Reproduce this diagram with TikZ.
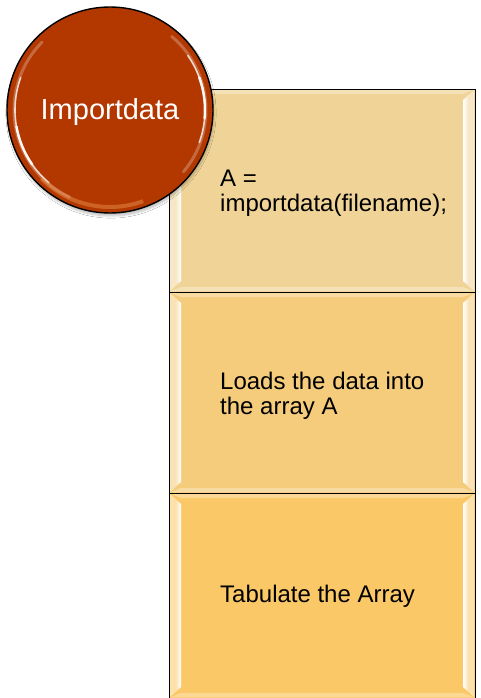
\documentclass[tikz,border=0pt]{standalone}
\usepackage{fontspec}
\setmainfont{Liberation Sans}
\usetikzlibrary{shadows.blur}
\definecolor{boxA}{HTML}{F0D497}
\definecolor{boxB}{HTML}{F5CC7B}
\definecolor{boxC}{HTML}{FAC866}
\definecolor{badge}{HTML}{B23800}
\tikzset{
  stage/.style={draw=black, line width=1.2pt, minimum width=306pt, inner sep=0pt, anchor=north west},
  stagetext/.style={anchor=west, align=left, inner sep=0pt,
    font=\fontsize{24}{25}\selectfont, text=black},
  badgecircle/.style={circle, draw=black, line width=1.4pt, fill=badge,
    minimum size=206pt, inner sep=0pt,
    blur shadow={shadow xshift=1pt, shadow yshift=-3pt, shadow blur steps=6, shadow opacity=25},
    font=\fontsize{29}{30}\selectfont, text=white},
  gleam/.style={white, line cap=round}
}
% bevelled panel: #1 = top, #2 = bottom, #3 = fill colour
\newcommand{\bevelpanel}[3]{%
  \fill[#3] (169,#1) rectangle (475,#2);
  % left bevel
  \fill[#3!55!white] (169.6,#1+0.6) -- (181,#1+11) -- (181,#2-11) -- (169.6,#2-0.6) -- cycle;
  \shade[left color=#3!50!white, right color=white]
     (176,#1+7) -- (181,#1+11) -- (181,#2-11) -- (176,#2-7) -- cycle;
  % right bevel
  \fill[#3!55!white] (474.4,#1+0.6) -- (463,#1+11) -- (463,#2-11) -- (474.4,#2-0.6) -- cycle;
  \shade[right color=#3!50!white, left color=white]
     (468,#1+7) -- (463,#1+11) -- (463,#2-11) -- (468,#2-7) -- cycle;
  % top and bottom bevel
  \fill[#3!70!white] (169.6,#1+0.6) -- (474.4,#1+0.6) -- (463,#1+5) -- (181,#1+5) -- cycle;
  \fill[#3!70!white] (169.6,#2-0.6) -- (474.4,#2-0.6) -- (463,#2-5) -- (181,#2-5) -- cycle;
}
\begin{document}
\begin{tikzpicture}[x=1pt, y=-1pt]
  \useasboundingbox (0,0) rectangle (481,698);
  \fill[white] (0,0) rectangle (481,698);

  % three stacked panels
  \bevelpanel{89}{292}{boxA}
  \bevelpanel{292}{493}{boxB}
  \bevelpanel{493}{698}{boxC}
  \node[stage, minimum height=203pt] (s1) at (169,89) {};
  \node[stage, minimum height=201pt] (s2) at (169,292) {};
  \node[stage, minimum height=206pt] (s3) at (169,493) {};

  \node[stagetext] (t1) at (220,193) {A =\\importdata(filename);};
  \node[stagetext] (t2) at (220,396) {Loads the data into\\the array A};
  \node[stagetext] (t3) at (220,596) {Tabulate the Array};

  % round title badge
  \node[badgecircle] (b) at (110,110) {};
  % glossy rim highlights
  \begin{scope}[shift={(b.center)}]
    \draw[gleam, line width=3pt, opacity=0.25] (115:96) arc[start angle=115, end angle=225, radius=96];
    \draw[gleam, line width=1.6pt, opacity=0.75] (130:95) arc[start angle=130, end angle=200, radius=95];
    \draw[gleam, line width=2.5pt, opacity=0.9] (145:95) arc[start angle=145, end angle=170, radius=95];
    \draw[gleam, line width=3pt, opacity=0.25] (40:96) arc[start angle=40, end angle=-50, radius=96];
    \draw[gleam, line width=1.6pt, opacity=0.75] (20:95) arc[start angle=20, end angle=-35, radius=95];
    \draw[gleam, line width=2.5pt, opacity=0.9] (5:95) arc[start angle=5, end angle=-20, radius=95];
    \draw[orange!60!white, line width=4pt, opacity=0.35] (70:97) arc[start angle=70, end angle=135, radius=97];
  \end{scope}
  \node[font=\fontsize{29}{30}\selectfont, text=white, inner sep=0pt] (bl) at (110,112) {Importdata};
\end{tikzpicture}
\end{document}
